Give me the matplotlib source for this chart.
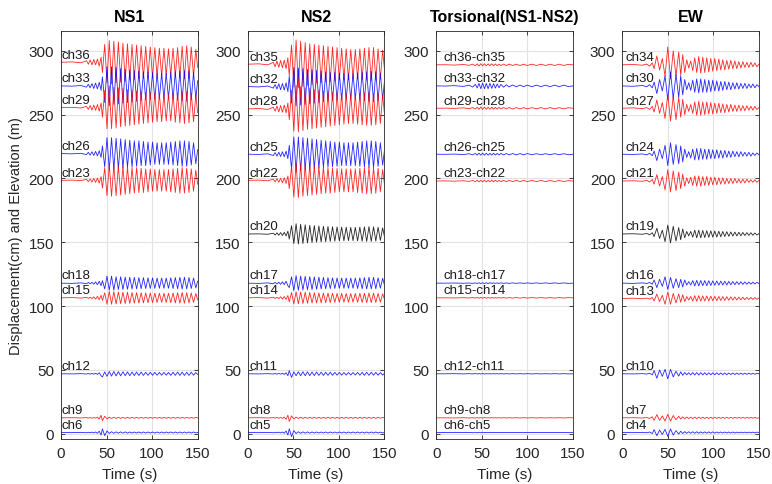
import matplotlib.pyplot as plt

plt.rcParams['font.family'] = ['Liberation Sans', 'DejaVu Sans']

# times (s) of the sampled peaks / troughs
t_ns = [0, 12, 22, 28, 30, 32, 34, 36, 38, 40, 42, 44,
        45.5, 48, 50.5, 53, 55.5, 58, 60.5, 63, 65.5, 68, 70.5, 73, 75.5, 78,
        80.5, 83, 85.5, 88, 90.5, 93, 95.5, 98, 100.5, 103, 105.5, 108, 110.5,
        113, 115.5, 118, 120.5, 123, 125.5, 128, 130.5, 133, 135.5, 138, 140.5,
        143, 145.5, 148, 150]
t_tor = [0, 10, 20, 30, 36, 40, 43, 45, 47, 49, 51, 53, 55, 57, 59, 61, 63,
         65, 67, 69, 71, 74, 77, 80, 84, 88, 92, 96, 100, 105, 110, 115, 120,
         125, 130, 135, 140, 145, 150]
t_ew = [0, 12, 22, 27, 30, 33,
        35, 38, 41, 44, 47, 50, 53, 56, 59, 62,
        64.2, 66.4, 68.6, 70.8, 73, 75.2, 77.4, 79.6, 81.8, 84, 86.2, 88.4,
        90.6, 92.8, 95, 97.2, 99.4, 101.6, 103.8, 106, 108.2, 110.4, 112.6,
        114.8, 117, 119.2, 121.4, 123.6, 125.8, 128, 130.2, 132.4, 134.6,
        136.8, 139, 141.2, 143.4, 145.6, 147.8, 150]

# ---------------- NS1 ----------------
ns1_names = ['ch36', 'ch33', 'ch29', 'ch26', 'ch23', 'ch18', 'ch15', 'ch12', 'ch9', 'ch6']
ns1_elev = [291, 272.5, 255.5, 219.5, 198.5, 118, 106.5, 47, 12.5, 1]
ns1_ch36 = [0, 0.3, -0.4, 1.2, -1.5, 1.8, -2.0, 2.2, -2.0, 2.5, -3.0, 4.0,
            -8, 14, -16, 17, -17, 16.5, -16, 16, -15.5, 15, -15, 14.5, -14, 14, -13.5,
            13.5, -13, 13, -12.5, 12.5, -12, 12, -12, 11.5, -11.5, 11, -11, 11, -10.5,
            10.5, -10.5, 11, -11, 11.5, -12, 12.5, -13, 13, -12.5, 12, -11, 10, -4]
ns1_ch33 = [0, -0.2, 0.3, -1.0, 1.3, -1.5, 1.8, -2.0, 2.2, -2.4, 2.8, -3.5,
            7, -13, 15, -15.5, 15, -14.5, 14.5, -14, 13.5, -13.5, 13, -13, 12.5, -12.5,
            12, -12, 11.5, -11.5, 11, -11, 11, -10.5, 10.5, -10.5, 10, -10, 10, -10, 10,
            -10, 10.5, -10.5, 11, -11, 11.5, -11.5, 12, -12, 11.5, -11, 10.5, -10, 4]
ns1_ch29 = [0, 0.2, -0.3, 1.0, -1.4, 1.6, -1.9, 2.0, -2.1, 2.4, -2.8, 3.6,
            -7.5, 13.5, -16.5, 17, -16.5, 16, -16, 15.5, -15, 15, -14.5, 14, -14, 13.5,
            -13.5, 13, -13, 12.5, -12.5, 12, -12, 12, -11.5, 11.5, -11, 11, -11, 10.5,
            -10.5, 10.5, -10.5, 11, -11.5, 11.5, -12, 12.5, -12.5, 12.5, -12, 11.5, -11, 10, -4]
ns1_ch26 = [0, -0.2, 0.2, -0.8, 1.0, -1.2, 1.4, -1.5, 1.7, -1.8, 2.2, -3.0,
            6, -10.5, 12.5, -13, 12.5, -12.5, 12, -12, 11.5, -11.5, 11, -11, 10.5, -10.5,
            10, -10, 10, -9.5, 9.5, -9.5, 9, -9, 9, -8.5, 8.5, -8.5, 8.5, -8.5, 8.5, -8.5,
            9, -9, 9.5, -9.5, 10, -10, 10, -10, 9.5, -9, 8.5, -8, 3]
ns1_ch23 = [0, 0.2, -0.2, 0.8, -1.0, 1.1, -1.3, 1.5, -1.6, 1.8, -2.2, 3.0,
            -6, 10, -12, 12.5, -12.5, 12, -12, 11.5, -11.5, 11, -11, 10.5, -10.5, 10, -10,
            10, -9.5, 9.5, -9.5, 9, -9, 9, -8.5, 8.5, -8.5, 8.5, -8.5, 8.5, -8.5, 8.5,
            -9, 9, -9.5, 9.5, -10, 10, -10, 9.5, -9.5, 9, -8.5, 8, -3]
ns1_ch18 = [0, -0.2, 0.2, -0.4, 0.5, -0.5, 0.6, -0.8, 1.0, -1.2, 1.5, -2.0,
            2, -4.5, 5.5, -5.5, 5.5, -5.5, 5, -5, 5, -5, 4.8, -4.8, 4.6, -4.6, 4.5,
            -4.5, 4.4, -4.4, 4.3, -4.3, 4.2, -4.2, 4.1, -4.1, 4, -4, 4, -4, 4, -4,
            4.2, -4.2, 4.4, -4.4, 4.6, -4.6, 4.6, -4.6, 4.4, -4.2, 4, -3.8, 1.5]
ns1_ch15 = [0, 0.2, -0.2, 0.4, -0.5, 0.5, -0.6, 0.8, -1.0, 1.2, -1.5, 2.0,
            -2, 4, -5, 5, -5, 4.8, -4.8, 4.6, -4.6, 4.5, -4.5, 4.4, -4.4, 4.2, -4.2,
            4.1, -4.1, 4, -4, 3.9, -3.9, 3.8, -3.8, 3.7, -3.7, 3.6, -3.6, 3.6, -3.6, 3.6,
            -3.8, 3.8, -4, 4, -4.2, 4.2, -4.2, 4, -4, 3.8, -3.6, 3.4, -1.5]
ns1_ch12 = [0, -0.1, 0.1, -0.2, 0.2, -0.3, 0.3, -0.3, 0.4, -0.5, 0.8, -1.5,
            -2.5, 1.5, -2, 1.8, -1.8, 1.8, -1.7, 1.7, -1.6, 1.6, -1.5, 1.5, -1.5, 1.4,
            -1.4, 1.4, -1.3, 1.3, -1.3, 1.2, -1.2, 1.2, -1.2, 1.1, -1.1, 1.1, -1.1, 1.1,
            -1.1, 1.1, -1.2, 1.2, -1.2, 1.3, -1.3, 1.3, -1.3, 1.2, -1.2, 1.2, -1.1, 1.0, -0.5]
ns1_ch9 = [0, 0.1, -0.1, 0.2, -0.2, 0.2, -0.3, 0.3, -0.3, 0.5, -1.0, 2.0,
           -2.2, 1.2, -0.8, 0.5, -0.5, 0.5, -0.4, 0.4, -0.4, 0.4, -0.4, 0.4, -0.4, 0.4,
           -0.3, 0.3, -0.3, 0.3, -0.3, 0.3, -0.3, 0.3, -0.3, 0.3, -0.3, 0.3, -0.3, 0.3,
           -0.3, 0.3, -0.3, 0.3, -0.3, 0.3, -0.3, 0.3, -0.3, 0.3, -0.3, 0.3, -0.3, 0.3, 0]
ns1_ch6 = [0, -0.1, 0.1, -0.2, 0.2, -0.2, 0.3, -0.3, 0.4, -0.6, 1.0, -2.0,
           2.8, -2.5, 1.2, -0.7, 0.6, -0.6, 0.5, -0.5, 0.5, -0.5, 0.5, -0.5, 0.4, -0.4,
           0.4, -0.4, 0.4, -0.4, 0.4, -0.4, 0.4, -0.4, 0.4, -0.4, 0.4, -0.4, 0.4, -0.4,
           0.4, -0.4, 0.4, -0.4, 0.4, -0.4, 0.4, -0.4, 0.4, -0.4, 0.4, -0.4, 0.4, -0.3, 0]

# ---------------- NS2 ----------------
ns2_names = ['ch35', 'ch32', 'ch28', 'ch25', 'ch22', 'ch20', 'ch17', 'ch14', 'ch11', 'ch8', 'ch5']
ns2_elev = [289.5, 272, 254.5, 219, 198.5, 156.5, 118, 106.5, 47, 12.5, 1]
ns2_ch35 = [0, 0.3, -0.5, 1.5, -2.0, 2.5, -2.5, 3.0, -2.8, 3.2, -3.5, 5.0,
            -9, 15, -18, 19, -18.5, 18, -17.5, 17, -16.5, 16, -16, 15.5, -15, 15, -14.5,
            14.5, -14, 14, -13.5, 13.5, -13, 13, -12.5, 12.5, -12, 12, -12, 11.5, -11.5,
            11.5, -11.5, 12, -12, 12.5, -12.5, 13, -13, 13, -12.5, 12, -11.5, 11, -4]
ns2_ch32 = [0, -0.3, 0.4, -1.2, 1.6, -2.0, 2.2, -2.5, 2.4, -2.8, 3.0, -4.0,
            8, -13, 15, -15, 14.5, -14.5, 14, -14, 13.5, -13.5, 13, -13, 12.5, -12.5, 12,
            -12, 11.5, -11.5, 11, -11, 11, -10.5, 10.5, -10.5, 10, -10, 10, -10, 10, -10,
            10.5, -10.5, 11, -11, 11.5, -11.5, 12, -12, 11.5, -11, 10.5, -10, 4]
ns2_ch28 = [0, 0.3, -0.4, 1.3, -1.8, 2.2, -2.4, 2.6, -2.6, 3.0, -3.2, 4.5,
            -8.5, 14.5, -17.5, 18.5, -18, 17.5, -17, 16.5, -16, 16, -15.5, 15, -15, 14.5,
            -14.5, 14, -14, 13.5, -13.5, 13, -13, 12.5, -12.5, 12, -12, 12, -11.5, 11.5,
            -11.5, 11.5, -12, 12, -12.5, 12.5, -13, 13, -13, 12.5, -12.5, 12, -11.5, 11, -4]
ns2_ch25 = [0, -0.2, 0.3, -1.0, 1.2, -1.5, 1.6, -1.8, 1.9, -2.0, 2.4, -3.5,
            7, -11.5, 13.5, -14, 13.5, -13, 13, -12.5, 12.5, -12, 12, -11.5, 11.5, -11,
            11, -10.5, 10.5, -10, 10, -10, 9.5, -9.5, 9.5, -9, 9, -9, 9, -9, 9, -9,
            9.5, -9.5, 10, -10, 10.5, -10.5, 10.5, -10.5, 10, -9.5, 9, -8.5, 3]
ns2_ch22 = [0, 0.2, -0.3, 1.0, -1.2, 1.4, -1.5, 1.7, -1.8, 2.0, -2.4, 3.4,
            -6.5, 11, -13, 13.5, -13.5, 13, -12.5, 12.5, -12, 12, -11.5, 11.5, -11, 11,
            -10.5, 10.5, -10, 10, -10, 9.5, -9.5, 9.5, -9, 9, -9, 9, -9, 9, -9, 9,
            -9.5, 9.5, -10, 10, -10.5, 10.5, -10.5, 10, -10, 9.5, -9, 8.5, -3]
ns2_ch20 = [0, 0.1, -0.2, 0.6, -0.8, 0.9, -1.0, 1.1, -1.2, 1.3, -1.5, 2.2,
            -4, 6.5, -7.5, 8, -7.8, 7.6, -7.4, 7.2, -7, 6.8, -6.7, 6.6, -6.4, 6.3, -6.2,
            6.1, -6, 5.9, -5.8, 5.7, -5.6, 5.5, -5.4, 5.4, -5.3, 5.3, -5.2, 5.2, -5.2, 5.2,
            -5.4, 5.4, -5.6, 5.6, -5.8, 5.8, -5.8, 5.6, -5.5, 5.3, -5, 4.8, -2]
ns2_ch17 = [0, -0.2, 0.2, -0.5, 0.6, -0.6, 0.7, -0.9, 1.0, -1.2, 1.5, -2.0,
            -3.5, 5, -5.8, 5.8, -5.6, 5.5, -5.4, 5.3, -5.2, 5.1, -5, 4.9, -4.8, 4.7, -4.6,
            4.5, -4.4, 4.3, -4.3, 4.2, -4.2, 4.1, -4.1, 4, -4, 4, -4, 4, -4, 4,
            -4.2, 4.2, -4.4, 4.4, -4.6, 4.6, -4.6, 4.5, -4.4, 4.2, -4, 3.8, -1.5]
ns2_ch14 = [0, 0.2, -0.2, 0.4, -0.5, 0.5, -0.6, 0.8, -0.9, 1.0, -1.3, 1.8,
            -3.2, 4.2, -4.8, 4.8, -4.7, 4.6, -4.5, 4.4, -4.3, 4.2, -4.1, 4, -4, 3.9, -3.9,
            3.8, -3.8, 3.7, -3.7, 3.6, -3.6, 3.5, -3.5, 3.5, -3.4, 3.4, -3.4, 3.4, -3.4, 3.4,
            -3.5, 3.5, -3.6, 3.6, -3.8, 3.8, -3.8, 3.7, -3.6, 3.5, -3.4, 3.2, -1.2]
ns2_ch11 = [0, -0.1, 0.1, -0.2, 0.2, -0.3, 0.3, -0.3, 0.4, -0.5, 0.8, -1.5,
            2.5, -2.8, 1.5, -1.5, 1.6, -1.6, 1.6, -1.5, 1.5, -1.5, 1.4, -1.4, 1.4, -1.3,
            1.3, -1.3, 1.2, -1.2, 1.2, -1.2, 1.1, -1.1, 1.1, -1.1, 1.0, -1.0, 1.0, -1.0,
            1.0, -1.0, 1.1, -1.1, 1.1, -1.2, 1.2, -1.2, 1.2, -1.1, 1.1, -1.1, 1.0, -1.0, 0.4]
ns2_ch8 = [0, 0.1, -0.1, 0.2, -0.2, 0.2, -0.3, 0.3, -0.4, 0.6, -1.2, 2.0,
           -2.8, 1.5, -0.8, 0.6, -0.5, 0.5, -0.5, 0.5, -0.4, 0.4,
           -0.4, 0.4, -0.4, 0.4, -0.4, 0.4, -0.4, 0.4, -0.4, 0.4, -0.4, 0.4, -0.4, 0.4,
           -0.4, 0.4, -0.4, 0.4, -0.4, 0.4, -0.4, 0.4, -0.4, 0.4, -0.4, 0.4, -0.4, 0.4,
           -0.4, 0.4, -0.3, 0.3, 0]
ns2_ch5 = [0, -0.1, 0.1, -0.2, 0.2, -0.2, 0.3, -0.3, 0.4, -0.6, 1.2, -2.0,
           3.0, -3.2, 1.5, -0.8, 0.6, -0.6, 0.5, -0.5, 0.5, -0.5,
           0.4, -0.4, 0.4, -0.4, 0.4, -0.4, 0.4, -0.4, 0.4, -0.4, 0.4, -0.4, 0.4, -0.4,
           0.4, -0.4, 0.4, -0.4, 0.4, -0.4, 0.4, -0.4, 0.4, -0.4, 0.4, -0.4, 0.4, -0.4,
           0.4, -0.4, 0.3, -0.3, 0]

# ---------------- Torsional (NS1-NS2) ----------------
tor_names = ['ch36-ch35', 'ch33-ch32', 'ch29-ch28', 'ch26-ch25', 'ch23-ch22',
             'ch18-ch17', 'ch15-ch14', 'ch12-ch11', 'ch9-ch8', 'ch6-ch5']
tor_elev = [289, 272.5, 255, 219, 198, 118, 106.5, 47, 12.5, 1]
tor_36_35 = [0, 0.1, -0.2, 0.3, -0.4, 0.5, -0.7, 0.8, -0.9, 0.9, -0.8, 0.9, -0.8,
             0.8, -0.7, 0.8, -0.7, 0.7, -0.7, 0.6, -0.6, 0.6, -0.6, 0.6, -0.5, 0.5,
             -0.5, 0.5, -0.5, 0.5, -0.5, 0.5, -0.5, 0.5, -0.5, 0.5, -0.5, 0.4, 0]
tor_33_32 = [0, -0.1, 0.2, -0.4, 0.6, -0.9, 1.2, -1.6, 2.0, -2.2, 2.3, -2.2, 2.0,
             -2.2, 2.1, -1.9, 1.8, -1.7, 1.5, -1.4, 1.2, -1.0, 0.9, -0.8, 0.7, -0.7,
             0.6, -0.6, 0.6, -0.6, 0.6, -0.6, 0.6, -0.6, 0.6, -0.6, 0.6, -0.5, 0]
tor_29_28 = [0, 0.1, -0.1, 0.3, -0.4, 0.5, -0.6, 0.8, -0.9, 1.0, -0.9, 0.9, -0.9,
             0.8, -0.8, 0.8, -0.7, 0.7, -0.7, 0.7, -0.6, 0.6, -0.6, 0.6, -0.6, 0.5,
             -0.5, 0.5, -0.5, 0.5, -0.5, 0.5, -0.5, 0.5, -0.5, 0.5, -0.5, 0.4, 0]
tor_26_25 = [0, -0.1, 0.1, -0.3, 0.4, -0.5, 0.6, -0.7, 0.8, -0.8, 0.9, -0.8, 0.8,
             -0.8, 0.7, -0.7, 0.7, -0.6, 0.6, -0.6, 0.6, -0.5, 0.5, -0.5, 0.5, -0.5,
             0.5, -0.5, 0.5, -0.4, 0.4, -0.4, 0.4, -0.4, 0.4, -0.4, 0.4, -0.4, 0]
tor_23_22 = [0, 0.1, -0.1, 0.2, -0.3, 0.4, -0.5, 0.6, -0.7, 0.7, -0.7, 0.7, -0.7,
             0.6, -0.6, 0.6, -0.6, 0.6, -0.5, 0.5, -0.5, 0.5, -0.5, 0.5, -0.4, 0.4,
             -0.4, 0.4, -0.4, 0.4, -0.4, 0.4, -0.4, 0.4, -0.4, 0.4, -0.4, 0.3, 0]
tor_18_17 = [0, 0, 0.1, -0.1, 0.1, -0.2, 0.2, -0.3, 0.3, -0.3, 0.3, -0.3, 0.3,
             -0.3, 0.3, -0.2, 0.2, -0.2, 0.2, -0.2, 0.2, -0.2, 0.2, -0.2, 0.2, -0.2,
             0.2, -0.2, 0.2, -0.2, 0.2, -0.2, 0.2, -0.2, 0.2, -0.2, 0.2, -0.2, 0]
tor_15_14 = [0, 0, -0.1, 0.1, -0.1, 0.2, -0.2, 0.3, -0.3, 0.3, -0.3, 0.3, -0.3,
             0.3, -0.3, 0.2, -0.2, 0.2, -0.2, 0.2, -0.2, 0.2, -0.2, 0.2, -0.2, 0.2,
             -0.2, 0.2, -0.2, 0.2, -0.2, 0.2, -0.2, 0.2, -0.2, 0.2, -0.2, 0.2, 0]
tor_12_11 = [0, 0, 0.1, -0.1, 0.1, -0.1, 0.2, -0.2, 0.2, -0.2, 0.2, -0.2, 0.1,
             -0.1, 0.1, -0.1, 0.1, -0.1, 0.1, -0.1, 0.1, -0.1, 0.1, -0.1, 0.1, -0.1,
             0.1, -0.1, 0.1, -0.1, 0.1, -0.1, 0.1, -0.1, 0.1, -0.1, 0.1, -0.1, 0]
tor_9_8 = [0, 0, -0.1, 0.1, -0.1, 0.1, -0.2, 0.2, -0.2, 0.2, -0.2, 0.2, -0.1,
           0.1, -0.1, 0.1, -0.1, 0.1, -0.1, 0.1, -0.1, 0.1, -0.1, 0.1, -0.1, 0.1,
           -0.1, 0.1, -0.1, 0.1, -0.1, 0.1, -0.1, 0.1, -0.1, 0.1, -0.1, 0.1, 0]
tor_6_5 = [0, 0, 0.1, -0.1, 0.1, -0.2, 0.2, -0.2, 0.2, -0.2, 0.2, -0.1, 0.1,
           -0.1, 0.1, -0.1, 0.1, -0.1, 0.1, -0.1, 0.1, -0.1, 0.1, -0.1, 0.1, -0.1,
           0.1, -0.1, 0.1, -0.1, 0.1, -0.1, 0.1, -0.1, 0.1, -0.1, 0.1, -0.1, 0]

# ---------------- EW ----------------
ew_names = ['ch34', 'ch30', 'ch27', 'ch24', 'ch21', 'ch19', 'ch16', 'ch13', 'ch10', 'ch7', 'ch4']
ew_elev = [289, 272.5, 255, 219, 198, 156.5, 118, 106, 47, 12.5, 1]
ew_ch34 = [0, 0.3, -0.3, 0.6, -1.0, 1.5,
           -3, 7, -4, 5, -9, 14, -11, 11, -9, 10,
           -8, 8, -6, 4, -2.5, 3, -4.5, 5.5, -6, 6.5, -6.5, 6, -6, 5.5, -5.5, 5, -5, 5,
           -4.5, 4.5, -4, 4, -4, 3.5, -3.5, 3.5, -3, 3, -3, 2.5, -2.5, 2.5, -2, 2, -2, 2,
           -1.5, 1.5, -1.5, 0.5]
ew_ch30 = [0, -0.3, 0.3, -0.6, 1.0, -1.5,
           3, -6, 5, -4, 8, -11, 11, -10, 9, -9,
           8, -7, 5, -3, 2.5, -3.5, 4.5, -5, 5.5, -5.5, 5.5, -5, 5, -5, 4.5, -4.5, 4.5, -4,
           4, -4, 3.5, -3.5, 3.5, -3, 3, -3, 2.5, -2.5, 2.5, -2.5, 2, -2, 2, -2, 1.5, -1.5,
           1.5, -1.5, 1, -0.5]
ew_ch27 = [0, 0.3, -0.3, 0.5, -0.9, 1.4,
           -3, 6.5, -4, 4.5, -8, 11, -10, 9.5, -9, 8.5,
           -7, 7, -5, 3, -2.5, 3, -4, 5, -5.5, 5.5, -5.5, 5, -5, 5, -4.5, 4.5, -4.5, 4,
           -4, 4, -3.5, 3.5, -3.5, 3, -3, 3, -2.5, 2.5, -2.5, 2.5, -2, 2, -2, 2, -1.5, 1.5,
           -1.5, 1.5, -1, 0.5]
ew_ch24 = [0, -0.2, 0.2, -0.5, 0.8, -1.2,
           2.5, -5, 4, -3.5, 7, -9, 9, -8, 7.5, -7.5,
           6.5, -6, 4, -2.5, 2, -3, 4, -4.5, 4.5, -4.5, 4.5, -4, 4, -4, 4, -3.5, 3.5, -3.5,
           3.5, -3, 3, -3, 3, -2.5, 2.5, -2.5, 2.5, -2, 2, -2, 2, -1.5, 1.5, -1.5, 1.5, -1.5,
           1, -1, 1, -0.5]
ew_ch21 = [0, 0.2, -0.2, 0.5, -0.8, 1.2,
           -2.5, 5, -4, 3.5, -7, 9, -8.5, 8, -7.5, 7,
           -6, 5.5, -4, 2.5, -2, 3, -3.5, 4, -4, 4, -4, 3.5, -3.5, 3.5, -3.5, 3, -3, 3,
           -3, 2.5, -2.5, 2.5, -2.5, 2, -2, 2, -2, 2, -1.5, 1.5, -1.5, 1.5, -1.5, 1.5, -1, 1,
           -1, 1, -1, 0.5]
ew_ch19 = [0, 0.2, -0.2, 0.4, -0.6, 1.0,
           -2, 4.5, -3.5, 3, -6, 7, -7, 6, -5.5, 5,
           -4.5, 4, -3, 2, -1.5, 2, -2.5, 3, -3, 3, -3, 2.8, -2.8, 2.6, -2.6, 2.5, -2.5, 2.4,
           -2.4, 2.2, -2.2, 2, -2, 1.8, -1.8, 1.6, -1.6, 1.5, -1.5, 1.4, -1.4, 1.2, -1.2, 1.1,
           -1.1, 1, -1, 0.8, -0.8, 0.3]
ew_ch16 = [0, -0.2, 0.2, -0.3, 0.5, -0.8,
           2.5, -3.5, 3, -2.5, 5, -5, 4.5, -4, 3.5, -3.5,
           3, -3, 2.5, -1.5, 1.2, -1.5, 2, -2.2, 2.2, -2.2, 2.1, -2, 2, -2, 1.9, -1.8, 1.8,
           -1.7, 1.7, -1.6, 1.6, -1.5, 1.5, -1.4, 1.4, -1.3, 1.3, -1.2, 1.2, -1.1, 1.1, -1,
           1, -0.9, 0.9, -0.8, 0.8, -0.7, 0.7, -0.3]
ew_ch13 = [0, 0.2, -0.2, 0.3, -0.5, 0.8,
           -2, 3.5, -2.5, 2.5, -4.5, 5, -4.5, 4, -3.5, 3.5,
           -3, 3, -2.5, 1.5, -1.2, 1.5, -2, 2.2, -2.2, 2.2, -2.1, 2, -2, 2, -1.9, 1.8, -1.8,
           1.7, -1.7, 1.6, -1.6, 1.5, -1.5, 1.4, -1.4, 1.3, -1.3, 1.2, -1.2, 1.1, -1.1, 1,
           -1, 0.9, -0.9, 0.8, -0.8, 0.7, -0.7, 0.3]
ew_ch10 = [0, -0.1, 0.1, -0.2, 0.4, -0.8,
           2.5, -3.5, 3, -2, 3.5, -4, 3.5, -2.5, 2, -1.8,
           1.5, -1.2, 1, -0.8, 0.8, -0.9, 1, -1, 1, -1, 0.9, -0.9, 0.9, -0.9, 0.8, -0.8,
           0.8, -0.8, 0.8, -0.7, 0.7, -0.7, 0.7, -0.7, 0.6, -0.6, 0.6, -0.6, 0.6, -0.5, 0.5,
           -0.5, 0.5, -0.5, 0.5, -0.4, 0.4, -0.4, 0.4, 0]
ew_ch7 = [0, 0.1, -0.1, 0.2, -0.4, 0.8,
          -2, 2.5, -2, 1.5, -2.5, 2.8, -2.5, 1.8, -1.5, 1.2,
          -1, 0.8, -0.7, 0.6, -0.6, 0.6, -0.6, 0.6, -0.6, 0.6, -0.5, 0.5, -0.5, 0.5, -0.5,
          0.5, -0.5, 0.5, -0.4, 0.4, -0.4, 0.4, -0.4, 0.4, -0.4, 0.4, -0.4, 0.4, -0.3, 0.3,
          -0.3, 0.3, -0.3, 0.3, -0.3, 0.3, -0.3, 0.3, -0.3, 0]
ew_ch4 = [0, -0.1, 0.1, -0.2, 0.4, -0.8,
          2.2, -2.5, 2, -1.5, 2.5, -3, 2.8, -2, 1.5, -1.2,
          1, -0.8, 0.7, -0.6, 0.6, -0.6, 0.6, -0.6, 0.6, -0.6, 0.5, -0.5, 0.5, -0.5, 0.5,
          -0.5, 0.5, -0.5, 0.4, -0.4, 0.4, -0.4, 0.4, -0.4, 0.4, -0.4, 0.4, -0.4, 0.3, -0.3,
          0.3, -0.3, 0.3, -0.3, 0.3, -0.3, 0.3, -0.3, 0.3, 0]

R, B, K = '#ff0000', '#0000ff', '#000000'

panels = [
    ('NS1', t_ns, ns1_names, ns1_elev,
     [ns1_ch36, ns1_ch33, ns1_ch29, ns1_ch26, ns1_ch23, ns1_ch18, ns1_ch15, ns1_ch12, ns1_ch9, ns1_ch6],
     [R, B, R, B, R, B, R, B, R, B], 1.0),
    ('NS2', t_ns, ns2_names, ns2_elev,
     [ns2_ch35, ns2_ch32, ns2_ch28, ns2_ch25, ns2_ch22, ns2_ch20, ns2_ch17, ns2_ch14, ns2_ch11, ns2_ch8, ns2_ch5],
     [R, B, R, B, R, K, B, R, B, R, B], 2.0),
    ('Torsional(NS1-NS2)', t_tor, tor_names, tor_elev,
     [tor_36_35, tor_33_32, tor_29_28, tor_26_25, tor_23_22, tor_18_17, tor_15_14, tor_12_11, tor_9_8, tor_6_5],
     [R, B, R, B, R, B, R, B, R, B], 8.0),
    ('EW', t_ew, ew_names, ew_elev,
     [ew_ch34, ew_ch30, ew_ch27, ew_ch24, ew_ch21, ew_ch19, ew_ch16, ew_ch13, ew_ch10, ew_ch7, ew_ch4],
     [R, B, R, B, R, K, B, R, B, R, B], 4.0),
]

lefts = [0.079, 0.321, 0.565, 0.806]
fig = plt.figure(figsize=(7.72, 4.85), dpi=100)
for i, (title, t, names, elev, series, cols, xlab) in enumerate(panels):
    ax = fig.add_axes([lefts[i], 0.093, 0.177, 0.841])
    for name, e, d, c in zip(names, elev, series, cols):
        ax.plot(t, [e + v for v in d], color=c, lw=0.6, alpha=0.85)
        ax.text(xlab, e + 6, name, fontsize=9.5, va='center', ha='left', color='#1a1a1a')
    ax.set_xlim(0, 150)
    ax.set_ylim(-4, 315.5)
    ax.set_xticks([0, 50, 100, 150])
    ax.set_yticks([0, 50, 100, 150, 200, 250, 300])
    ax.grid(True, color='#e3e3e3', lw=0.8)
    ax.set_axisbelow(True)
    ax.tick_params(direction='in', top=True, right=True, length=3, width=0.6,
                   labelsize=11, colors='#262626', pad=5)
    for s in ax.spines.values():
        s.set_color('#262626')
        s.set_linewidth(0.6)
    ax.set_title(title, fontsize=11.5, fontweight='bold', pad=7)
    ax.set_xlabel('Time (s)', fontsize=11, color='#262626', labelpad=5)
    if i == 0:
        ax.set_ylabel('Displacement(cm) and Elevation (m)', fontsize=10.5, color='#262626')

fig.savefig('out.png', dpi=100)
